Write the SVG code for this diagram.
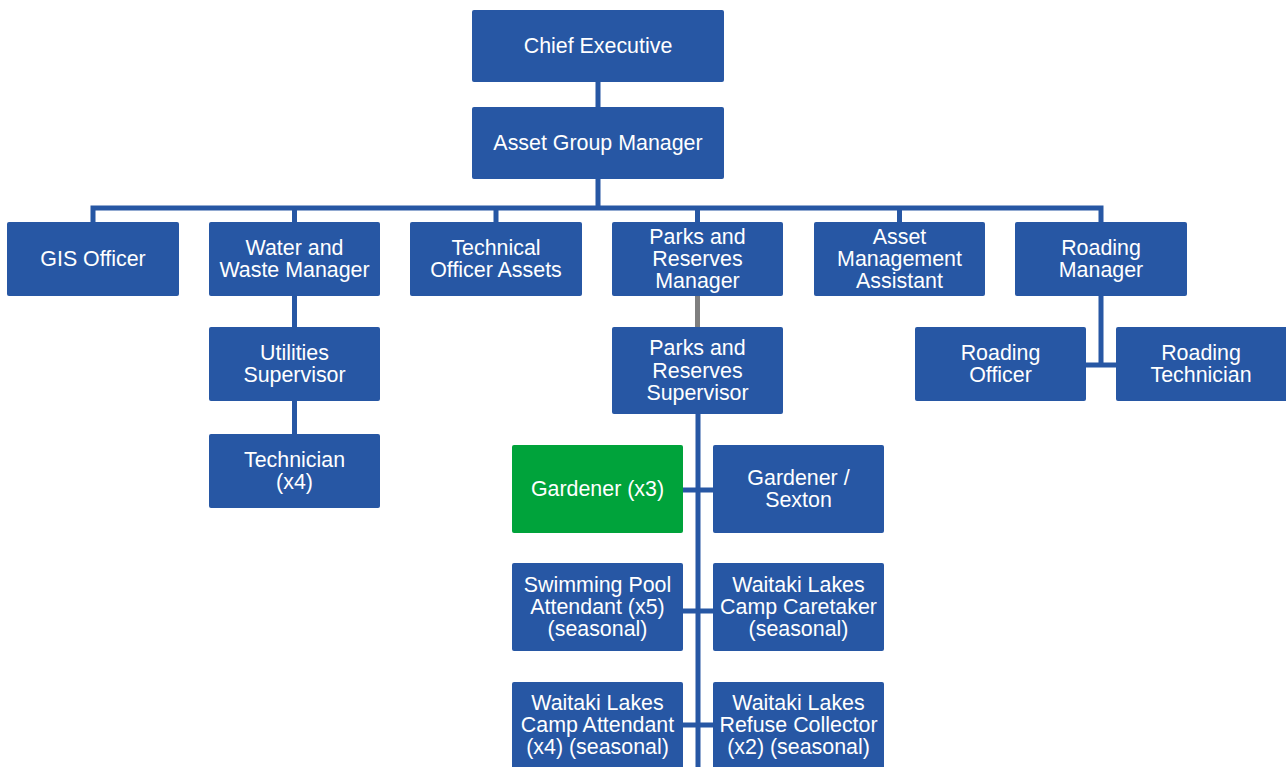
<svg xmlns="http://www.w3.org/2000/svg" width="1286" height="767" viewBox="0 0 1286 767">
<style>
.b{fill:#2757A4;}
.g{fill:#00A33B;}
text{font-family:"Liberation Sans",Arial,sans-serif;font-size:21.4px;fill:#fff;text-anchor:middle;}
.c{stroke:#2757A4;stroke-width:5;fill:none;}
.gr{stroke:#7F7F7F;stroke-width:5;fill:none;}
</style>
<rect width="1286" height="767" fill="#fff"/>
<g id="connectors">
<path class="c" d="M598 82V107M598 179V208M93 222V208H1101V222M294.5 208V222M496 208V222M697.5 208V222M899.5 208V222"/>
<path class="c" d="M294.5 296V327M294.5 401V434"/>
<path class="gr" d="M697.5 296V327"/>
<path class="c" d="M1101 296V365M1086 365H1116"/>
<path class="c" d="M698 414V767M683 490H713M683 611H713M683 725H713"/>
</g>
<g id="n1"><rect class="b" x="472" y="10" width="252" height="72" rx="2"/><text x="598" y="53">Chief Executive</text></g>
<g id="n2"><rect class="b" x="472" y="107" width="252" height="72" rx="2"/><text x="598" y="150">Asset Group Manager</text></g>
<g id="n3"><rect class="b" x="7" y="222" width="172" height="74" rx="2"/><text x="93" y="266">GIS Officer</text></g>
<g id="n4"><rect class="b" x="209" y="222" width="171" height="74" rx="2"/><text x="294.5" y="255">Water and</text><text x="294.5" y="277">Waste Manager</text></g>
<g id="n5"><rect class="b" x="410" y="222" width="172" height="74" rx="2"/><text x="496" y="255">Technical</text><text x="496" y="277">Officer Assets</text></g>
<g id="n6"><rect class="b" x="612" y="222" width="171" height="74" rx="2"/><text x="697.5" y="244">Parks and</text><text x="697.5" y="266">Reserves</text><text x="697.5" y="288">Manager</text></g>
<g id="n7"><rect class="b" x="814" y="222" width="171" height="74" rx="2"/><text x="899.5" y="244">Asset</text><text x="899.5" y="266">Management</text><text x="899.5" y="288">Assistant</text></g>
<g id="n8"><rect class="b" x="1015" y="222" width="172" height="74" rx="2"/><text x="1101" y="255">Roading</text><text x="1101" y="277">Manager</text></g>
<g id="n9"><rect class="b" x="209" y="327" width="171" height="74" rx="2"/><text x="294.5" y="360">Utilities</text><text x="294.5" y="382">Supervisor</text></g>
<g id="n10"><rect class="b" x="209" y="434" width="171" height="74" rx="2"/><text x="294.5" y="467">Technician</text><text x="294.5" y="489">(x4)</text></g>
<g id="n11"><rect class="b" x="612" y="327" width="171" height="87" rx="2"/><text x="697.5" y="355">Parks and</text><text x="697.5" y="378">Reserves</text><text x="697.5" y="400">Supervisor</text></g>
<g id="n12"><rect class="b" x="915" y="327" width="171" height="74" rx="2"/><text x="1000.5" y="360">Roading</text><text x="1000.5" y="382">Officer</text></g>
<g id="n13"><rect class="b" x="1116" y="327" width="172" height="74" rx="2"/><text x="1201" y="360">Roading</text><text x="1201" y="382">Technician</text></g>
<g id="n14"><rect class="g" x="512" y="445" width="171" height="88" rx="2"/><text x="597.5" y="496">Gardener (x3)</text></g>
<g id="n15"><rect class="b" x="713" y="445" width="171" height="88" rx="2"/><text x="798.5" y="485">Gardener /</text><text x="798.5" y="507">Sexton</text></g>
<g id="n16"><rect class="b" x="512" y="563" width="171" height="88" rx="2"/><text x="597.5" y="592">Swimming Pool</text><text x="597.5" y="614">Attendant (x5)</text><text x="597.5" y="636">(seasonal)</text></g>
<g id="n17"><rect class="b" x="713" y="563" width="171" height="88" rx="2"/><text x="798.5" y="592">Waitaki Lakes</text><text x="798.5" y="614">Camp Caretaker</text><text x="798.5" y="636">(seasonal)</text></g>
<g id="n18"><rect class="b" x="512" y="682" width="171" height="90" rx="2"/><text x="597.5" y="710">Waitaki Lakes</text><text x="597.5" y="732">Camp Attendant</text><text x="597.5" y="754">(x4) (seasonal)</text></g>
<g id="n19"><rect class="b" x="713" y="682" width="171" height="90" rx="2"/><text x="798.5" y="710">Waitaki Lakes</text><text x="798.5" y="732">Refuse Collector</text><text x="798.5" y="754">(x2) (seasonal)</text></g>
</svg>
